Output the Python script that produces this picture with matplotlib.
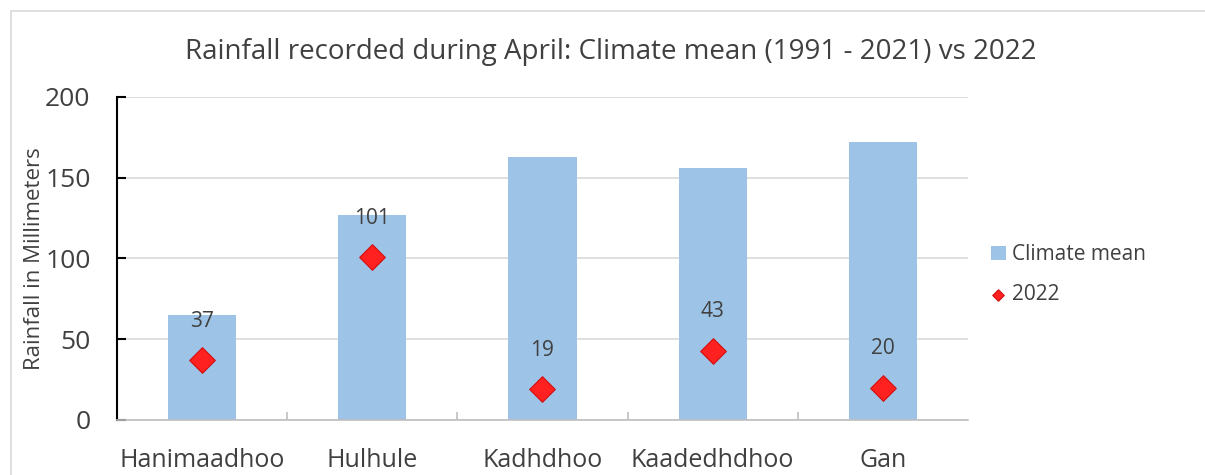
import matplotlib.pyplot as plt
import numpy as np
from matplotlib.patches import Rectangle

stations = ["Hanimaadhoo", "Hulhule", "Kadhdhoo", "Kaadedhdhoo", "Gan"]
climate_mean = [65, 127, 163, 156, 172]
rain_2022 = [37, 101, 19, 43, 20]

plt.rcParams['font.family'] = ['Open Sans', 'DejaVu Sans']
txt = '#404040'

fig = plt.figure(figsize=(12.05, 4.75), dpi=100)
ax = fig.add_axes([0.0971, 0.1158, 0.7062, 0.68])

x = np.arange(len(stations))
bars = ax.bar(x, climate_mean, width=0.4, color='#9dc3e6', label='Climate mean', zorder=2)
pts = ax.scatter(x, rain_2022, marker='D', s=170, color='#ff2020', edgecolor='#d01010',
                 linewidth=0.8, label='2022', zorder=3)
for xi, v in zip(x, rain_2022):
    ax.text(xi, v + 24, str(v), ha='center', va='center', fontsize=15, color=txt, zorder=4)

ax.set_xlim(-0.5, len(stations) - 0.5)
ax.set_ylim(0, 200)
ax.set_yticks([0, 50, 100, 150, 200])
ax.set_xticks(x)
ax.set_xticklabels(stations)
ax.set_xticks(np.arange(0.5, len(stations) - 0.5, 1), minor=True)
ax.tick_params(axis='y', labelsize=19, labelcolor=txt, length=6.5, width=1.5,
               color='black', direction='in', pad=19)
ax.tick_params(axis='x', which='major', labelsize=18, labelcolor=txt, length=0, pad=20)
ax.tick_params(axis='x', which='minor', length=6, width=1.2, color='#bfbfbf', direction='in')
ax.grid(axis='y', color='#d9d9d9', linewidth=1.2, zorder=0)
ax.set_axisbelow(True)
for s in ['top', 'right']:
    ax.spines[s].set_visible(False)
ax.spines['left'].set_color('black')
ax.spines['left'].set_linewidth(1.5)
ax.spines['bottom'].set_color('#bfbfbf')
ax.spines['bottom'].set_linewidth(1.2)

ax.set_ylabel('Rainfall in Millimeters', fontsize=16, color=txt, labelpad=0)
fig.text(0.507, 0.89, 'Rainfall recorded during April: Climate mean (1991 - 2021) vs 2022',
         ha='center', va='center', fontsize=20, color=txt)

leg = ax.legend([bars, pts], ['Climate mean', '2022'], loc='center left',
                bbox_to_anchor=(1.005, 0.45), frameon=False, fontsize=15, labelcolor=txt,
                handlelength=0.7, handletextpad=0.3, labelspacing=0.9, markerscale=0.45)

fig.patches.append(Rectangle((0.009, -0.01), 1.5, 0.987, transform=fig.transFigure,
                             fill=False, edgecolor='#d9d9d9', linewidth=1.2))

fig.savefig('out.png', dpi=100)
